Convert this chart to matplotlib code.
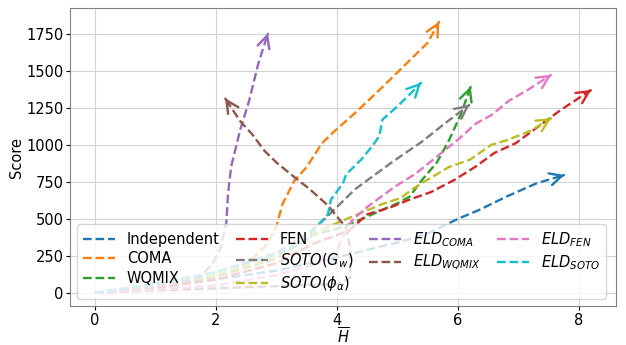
import numpy as np
import matplotlib
matplotlib.use("Agg")
import matplotlib.pyplot as plt

# method names (legend order) and colours
labels = ['Independent', 'COMA', 'WQMIX', 'FEN', r'$SOTO(G_w)$', r'$SOTO(\phi_\alpha)$',
          r'$ELD_{COMA}$', r'$ELD_{WQMIX}$', r'$ELD_{FEN}$', r'$ELD_{SOTO}$']
colors = ['tab:blue', 'tab:orange', 'tab:green', 'tab:red', 'tab:gray', 'tab:olive',
          'tab:purple', 'tab:brown', 'tab:pink', 'tab:cyan']

# trajectories: H (x) and score (y)
indep_x = [0, 1, 2, 3, 4, 5, 5.5, 6.0, 6.35, 6.8, 7.3, 7.76]
indep_y = [0, 40, 90, 150, 240, 340, 400, 500, 560, 650, 740, 796]

coma_x = [0, 1, 2, 2.5, 2.85, 3.0, 3.1, 3.3, 3.5, 3.75, 3.98, 4.3, 4.7, 5.1, 5.5, 5.69]
coma_y = [0, 30, 110, 190, 330, 450, 600, 760, 850, 1010, 1100, 1215, 1370, 1530, 1690, 1833]

wqmix_x = [0, 1, 2, 3, 3.6, 4.1, 4.5, 5.0, 5.2, 5.4, 5.65, 5.85, 6.05, 6.21]
wqmix_y = [0, 40, 110, 230, 390, 445, 515, 605, 650, 760, 880, 1030, 1210, 1394]

fen_x = [0, 1, 2, 3, 3.6, 4.2, 4.5, 4.9, 5.2, 5.55, 5.95, 6.3, 6.6, 6.95, 7.25, 7.7, 8.2]
fen_y = [0, 30, 90, 200, 330, 420, 530, 580, 630, 680, 765, 855, 945, 1010, 1100, 1236, 1371]

sotog_x = [0, 1, 2, 3, 3.55, 3.8, 4.05, 4.3, 4.5, 4.9, 5.4, 5.8, 6.19]
sotog_y = [0, 60, 140, 270, 410, 500, 600, 700, 760, 880, 1020, 1150, 1270]

sotop_x = [0, 1, 2, 3, 3.5, 3.85, 4.25, 4.75, 5.05, 5.25, 5.4, 5.85, 6.2, 6.55, 6.8, 7.2, 7.54]
sotop_y = [0, 50, 120, 240, 380, 445, 515, 600, 640, 700, 740, 850, 900, 1000, 1030, 1095, 1180]

eldcoma_x = [0, 0.5, 1.0, 1.5, 1.75, 1.95, 2.08, 2.17, 2.2, 2.25, 2.4, 2.55, 2.7, 2.86]
eldcoma_y = [0, 15, 40, 80, 110, 200, 310, 470, 670, 850, 1100, 1300, 1550, 1754]

eldwq_x = [0, 1, 2, 3, 4.0, 4.22, 4.22, 4.15, 3.85, 3.55, 3.3, 3.0, 2.8, 2.6, 2.4, 2.15]
eldwq_y = [0, 15, 30, 45, 60, 100, 300, 440, 590, 700, 780, 880, 960, 1070, 1160, 1315]

eldfen_x = [0, 1, 2, 3, 3.7, 4.0, 4.15, 4.25, 4.5, 4.95, 5.3, 5.65, 6.0, 6.3, 6.55, 6.85, 7.15, 7.54]
eldfen_y = [0, 20, 50, 120, 200, 290, 420, 490, 580, 715, 805, 920, 1035, 1145, 1200, 1300, 1370, 1473]

eldsoto_x = [0, 1, 2, 3, 3.5, 3.65, 3.85, 3.9, 4.1, 4.15, 4.4, 4.6, 4.7, 4.75, 5.0, 5.2, 5.39]
eldsoto_y = [0, 60, 140, 260, 360, 440, 530, 630, 740, 800, 900, 1000, 1060, 1170, 1260, 1340, 1420]

series = [(indep_x, indep_y), (coma_x, coma_y), (wqmix_x, wqmix_y), (fen_x, fen_y),
          (sotog_x, sotog_y), (sotop_x, sotop_y), (eldcoma_x, eldcoma_y),
          (eldwq_x, eldwq_y), (eldfen_x, eldfen_y), (eldsoto_x, eldsoto_y)]

plt.rcParams['font.size'] = 10.5

fig = plt.figure(figsize=(6.26, 3.45), dpi=100)
ax = fig.add_axes([0.112, 0.112, 0.872, 0.865])

for (x, y), lab, c in zip(series, labels, colors):
    ax.plot(x, y, '--', color=c, lw=1.7, label=lab)
    # arrow head at the end of each trajectory
    x0 = x[-1] - 0.02 * (x[-1] - x[-2])
    y0 = y[-1] - 0.02 * (y[-1] - y[-2])
    ax.annotate('', xy=(x[-1], y[-1]), xytext=(x0, y0),
                arrowprops=dict(arrowstyle='->', color=c, lw=1.7,
                                mutation_scale=22, shrinkA=0, shrinkB=0))

ax.set_xticks([0, 2, 4, 6, 8])
ax.set_yticks([0, 250, 500, 750, 1000, 1250, 1500, 1750])
ax.grid(True, color='#d3d3d3', lw=0.8)
ax.set_axisbelow(True)
for s in ax.spines.values():
    s.set_color('#808080')
ax.tick_params(colors='black', length=3, pad=1.5)

ax.set_xlabel(r'$\overline{H}$', labelpad=-1)
ax.set_ylabel('Score', labelpad=2)

ax.legend(ncol=4, loc='lower left', fontsize=10.5, handlelength=2.2,
          columnspacing=1.1, labelspacing=0.3)

fig.savefig('out.png', dpi=100)
